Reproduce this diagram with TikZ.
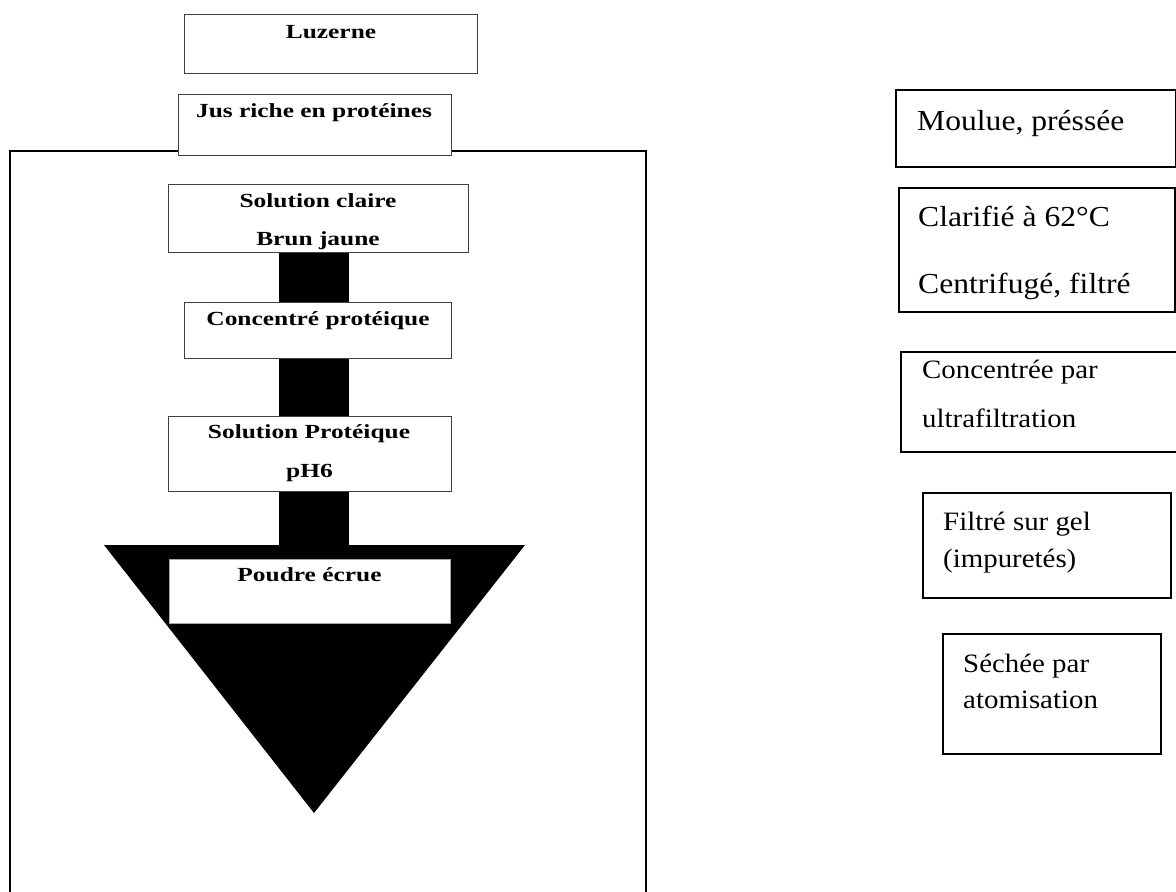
\documentclass[tikz,border=0pt]{standalone}
\usepackage{fontspec}
\setmainfont{Liberation Serif}
\newfontfamily\lblfont{Liberation Serif}[FakeStretch=1.27]
\newfontfamily\rfont{Liberation Serif}[FakeStretch=1.09]
\tikzset{
  lbox/.style={draw=black!75, line width=1.3pt, fill=white, inner sep=0pt, anchor=north west},
  pbox/.style={draw=black!35, line width=0.8pt, fill=white, inner sep=0pt, anchor=north west},
  rbox/.style={draw=black, line width=2pt, fill=white, inner sep=0pt, anchor=north west},
  btxt/.style={font=\lblfont\bfseries\fontsize{20}{24}\selectfont, anchor=base, inner sep=0pt},
  rtxt/.style={font=\rfont\fontsize{29}{34}\selectfont, anchor=base west, inner sep=0pt},
  rtxts/.style={font=\rfont\fontsize{26.5}{32}\selectfont, anchor=base west, inner sep=0pt},
  frameline/.style={line width=2.5pt, draw=black},
}
\begin{document}
\begin{tikzpicture}[x=1pt, y=-1pt]
\useasboundingbox (0,0) rectangle (1176,892);
\clip (0,0) rectangle (1176,892);
\fill[white] (0,0) rectangle (1176,892);

% coordinates of frame and funnel
\coordinate (fl) at (10,151);
\coordinate (fr) at (646,151);
\coordinate (barl) at (279,545);
\coordinate (barr) at (349,545);
\coordinate (tl) at (104,545);
\coordinate (tr) at (525,545);
\coordinate (apex) at (314,813);

% black triangle (drawn first, boxes cover it)
\fill[black] (tl) -- (tr) -- (apex) -- cycle;

% left column boxes
\node[lbox, minimum width=293pt, minimum height=59pt] (luz) at (184,14) {};
\node[lbox, minimum width=273pt, minimum height=61pt] (jus) at (178,94) {};
\node[lbox, minimum width=300pt, minimum height=68pt] (sc) at (168,184) {};

% frame
\draw[frameline] (fl |- 0,900) -- (fl) -- (jus.west |- fl);
\draw[frameline] (jus.east |- fr) -- (fr) -- (fr |- 0,900);

% black bar
\fill[black] (sc.south -| barl) rectangle (barr);

\node[lbox, minimum width=267pt, minimum height=56pt] (cp) at (184,302) {};
\node[lbox, minimum width=283pt, minimum height=75pt] (sp) at (168,416) {};
\node[pbox, minimum width=281pt, minimum height=64pt] (pe) at (169,559) {};

% left texts
\node[btxt] (tluz) at (331,38) {Luzerne};
\node[btxt] (tjus) at (314,117) {Jus riche en protéines};
\node[btxt] (tsc1) at (318,207.5) {Solution claire};
\node[btxt] (tsc2) at (318,245) {Brun jaune};
\node[btxt] (tcp) at (318,325) {Concentré protéique};
\node[btxt] (tsp1) at (309,438) {Solution Protéique};
\node[btxt] (tsp2) at (309.5,477) {pH6};
\node[btxt] (tpe) at (309.5,581) {Poudre écrue};

% right boxes
\node[rbox, minimum width=280pt, minimum height=77pt] (mp) at (895,89) {};
\node[rbox, minimum width=276pt, minimum height=124pt] (cl) at (898,187) {};
\node[rbox, minimum width=282pt, minimum height=100pt] (cu) at (900,351) {};
\node[rbox, minimum width=248pt, minimum height=105pt] (fg) at (922,492) {};
\node[rbox, minimum width=218pt, minimum height=120pt] (sa) at (942,633) {};

% right texts
\node[rtxt] (tmp) at (917,130) {Moulue, préssée};
\node[rtxt] (tcl1) at (918,226.7) {Clarifié à 62°C};
\node[rtxt] (tcl2) at (918,293) {Centrifugé, filtré};
\node[rtxts] (tcu1) at (922,378) {Concentrée par};
\node[rtxts] (tcu2) at (922,427) {ultrafiltration};
\node[rtxts] (tfg1) at (943,530) {Filtré sur gel};
\node[rtxts] (tfg2) at (943,567) {(impuretés)};
\node[rtxts] (tsa1) at (963,672) {Séchée par};
\node[rtxts] (tsa2) at (963,708) {atomisation};
\end{tikzpicture}
\end{document}
